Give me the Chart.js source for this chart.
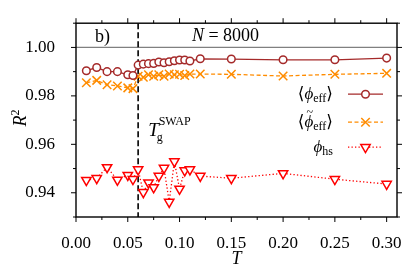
<!DOCTYPE html>
<html><head><meta charset="utf-8">
<script src="https://cdn.jsdelivr.net/npm/chart.js@4/dist/chart.umd.min.js"></script>
<style>html,body{margin:0;padding:0;background:#fff}canvas{display:block}</style>
</head><body>
<canvas id="c" width="416" height="278"></canvas>
<script>
// ---- data ----
const T = [0.01,0.02,0.03,0.04,0.05,0.055,0.06,0.065,0.07,0.075,0.08,0.085,0.09,0.095,0.10,0.105,0.11,0.12,0.15,0.20,0.25,0.30];
const PHI_EFF = [0.9904,0.9917,0.9900,0.9900,0.9887,0.9884,0.9927,0.9931,0.9933,0.9934,0.9940,0.9937,0.9941,0.9945,0.9948,0.9948,0.9944,0.9953,0.9952,0.9949,0.9949,0.9956];
const PHI_EFF_TILDE = [0.9854,0.9864,0.9846,0.9841,0.9833,0.9830,0.9881,0.9877,0.9887,0.9881,0.9887,0.9881,0.9890,0.9887,0.9889,0.9884,0.9890,0.9890,0.9889,0.9882,0.9889,0.9893];
const PHI_HS = [0.9452,0.9460,0.9505,0.9453,0.9473,0.9456,0.9496,0.9402,0.9442,0.9422,0.9469,0.9502,0.9362,0.9529,0.9416,0.9492,0.9496,0.9469,0.9460,0.9480,0.9456,0.9436];
const X_TICKS = [0.00,0.05,0.10,0.15,0.20,0.25,0.30];
const Y_TICKS = [0.94,0.96,0.98,1.00];
const X_MINOR_STEP = 0.025;
const Y_MINOR_STEP = 0.01;
const X_RANGE = [0, 0.31];
const Y_RANGE = [0.93, 1.01];
const T_SWAP = 0.06;
const R2_REF = 1.0;
const N_VALUE = '8000';
const PANEL = 'b)';

// ---- style ----
const SERIF = '"Liberation Serif", "DejaVu Serif", serif';
const BROWN = '#a52a2a';
const ORANGE = '#ff8c00';
const RED = '#ff0000';

function pts(vals){ return T.map((t,i)=>({x:t, y:vals[i]})); }

const SERIES = [
  {key:'eff', data: PHI_EFF, color: BROWN, style:'circle', radius:3.8, rot:0, dash:[], fill:'#fff'},
  {key:'efft', data: PHI_EFF_TILDE, color: ORANGE, style:'crossRot', radius:6, rot:0, dash:[4,2.5], fill:ORANGE},
  {key:'hs', data: PHI_HS, color: RED, style:'triangle', radius:5.4, rot:180, dash:[1.3,2.2], fill:'#fff'}
];

const it = s => `italic ${s}px ${SERIF}`;
const rm = s => `${s}px ${SERIF}`;

function richWidth(ctx, parts){
  let w=0; for(const p of parts){ if(p.over) continue; ctx.font=p.font; w+=ctx.measureText(p.t).width; } return w;
}
function drawRich(ctx, parts, x, yBase, align){
  let w = richWidth(ctx, parts);
  let cx = align==='right' ? x-w : align==='center' ? x-w/2 : x;
  ctx.textAlign='left'; ctx.textBaseline='alphabetic';
  let prevX = cx, prevW = 0;
  for(const p of parts){
    ctx.font=p.font;
    const pw = ctx.measureText(p.t).width;
    if(p.over){
      ctx.fillText(p.t, prevX + prevW/2 - pw/2 + (p.dx||0), yBase + (p.dy||0));
      continue;
    }
    ctx.fillText(p.t, cx + (p.dx||0), yBase + (p.dy||0));
    prevX = cx; prevW = pw;
    cx += pw;
  }
}

const LEGEND_TEXT = [
  [{t:'\u27E8',font:rm(17)},{t:'\u03D5',font:it(17)},{t:'eff',font:rm(12),dy:3},{t:'\u27E9',font:rm(17)}],
  [{t:'\u27E8',font:rm(17)},{t:'\u03D5',font:it(17)},{t:'~',font:rm(12),over:true,dy:-11,dx:1},{t:'eff',font:rm(12),dy:3},{t:'\u27E9',font:rm(17)}],
  [{t:'\u03D5',font:it(17)},{t:'hs',font:rm(12),dy:3}]
];

function marker(ctx, s, x, y){
  ctx.save();
  ctx.strokeStyle = s.color; ctx.fillStyle = s.fill; ctx.lineWidth = 1.5; ctx.setLineDash([]);
  Chart.helpers.drawPoint(ctx, {pointStyle:s.style, radius:s.radius, rotation:s.rot, borderWidth:1.5}, x, y);
  ctx.restore();
}

const deco = {
  id:'deco',
  beforeDatasetsDraw(chart){
    const {ctx, chartArea:a, scales:{x,y}} = chart;
    ctx.save();
    const yr = y.getPixelForValue(R2_REF);
    ctx.strokeStyle='#808080'; ctx.lineWidth=1.3;
    ctx.beginPath(); ctx.moveTo(a.left, yr); ctx.lineTo(a.right, yr); ctx.stroke();
    const xs = x.getPixelForValue(T_SWAP);
    ctx.strokeStyle='#000'; ctx.lineWidth=1.6; ctx.setLineDash([6,3]);
    ctx.beginPath(); ctx.moveTo(xs, a.top); ctx.lineTo(xs, a.bottom); ctx.stroke();
    ctx.restore();
  },
  afterDraw(chart){
    const {ctx, chartArea:a, scales:{x,y}} = chart;
    ctx.save();
    ctx.strokeStyle='#000'; ctx.lineWidth=1.4;
    ctx.strokeRect(a.left, a.top, a.right-a.left, a.bottom-a.top);
    ctx.lineWidth=1;
    const near = (v, arr) => arr.some(m => Math.abs(m-v) < 1e-9);
    for(let k=0; k*X_MINOR_STEP <= x.max+1e-9; k++){
      const v = +(k*X_MINOR_STEP).toFixed(6); if(v < x.min-1e-9) continue;
      const len = near(v, X_TICKS) ? 5 : 3; const px = x.getPixelForValue(v);
      ctx.beginPath(); ctx.moveTo(px, a.bottom); ctx.lineTo(px, a.bottom+len);
      ctx.moveTo(px, a.top); ctx.lineTo(px, a.top-len); ctx.stroke();
    }
    for(let k=Math.ceil(y.min/Y_MINOR_STEP-1e-9); k*Y_MINOR_STEP <= y.max+1e-9; k++){
      const v = +(k*Y_MINOR_STEP).toFixed(6);
      const len = near(v, Y_TICKS) ? 5 : 3; const py = y.getPixelForValue(v);
      ctx.beginPath(); ctx.moveTo(a.left, py); ctx.lineTo(a.left-len, py);
      ctx.moveTo(a.right, py); ctx.lineTo(a.right+len, py); ctx.stroke();
    }
    ctx.fillStyle='#000';
    drawRich(ctx, [{t:PANEL, font:rm(18)}], a.left+19, a.top+19, 'left');
    drawRich(ctx, [{t:'N', font:it(18)},{t:' = '+N_VALUE, font:rm(18)}], (a.left+a.right)/2-11, a.top+18, 'center');
    const xs = x.getPixelForValue(T_SWAP);
    ctx.font = it(19); ctx.textAlign='left'; ctx.textBaseline='alphabetic';
    ctx.fillText('T', xs+10, a.top+113);
    const tw = ctx.measureText('T').width;
    ctx.font = rm(12);
    ctx.fillText('SWAP', xs+10+tw, a.top+102);
    ctx.fillText('g', xs+10+tw-2, a.top+118);
    drawRich(ctx, [{t:'T', font:it(18)}], (a.left+a.right)/2, chart.height-14, 'center');
    ctx.save();
    ctx.translate(26, (a.top+a.bottom)/2 - 2);
    ctx.rotate(-Math.PI/2);
    drawRich(ctx, [{t:'R', font:it(18)},{t:'2', font:rm(12), dy:-7}], 0, 0, 'center');
    ctx.restore();
    const rows = [71, 99, 124];
    SERIES.forEach((s,i)=>{
      const yy = a.top + rows[i];
      ctx.fillStyle='#000';
      drawRich(ctx, LEGEND_TEXT[i], a.right-64, yy+5, 'right');
      ctx.save();
      ctx.strokeStyle=s.color; ctx.lineWidth=1.3; ctx.setLineDash(s.dash);
      ctx.beginPath(); ctx.moveTo(a.right-49, yy); ctx.lineTo(a.right-14, yy); ctx.stroke();
      ctx.restore();
      marker(ctx, s, a.right-31.5, yy);
    });
    ctx.restore();
  }
};

new Chart(document.getElementById('c'), {
  type:'line',
  data:{ datasets: SERIES.map(s=>({
    label:s.key, data:pts(s.data), borderColor:s.color, backgroundColor:s.fill,
    borderWidth:1.3, borderDash:s.dash, tension:0, fill:false,
    pointStyle:s.style, pointRadius:s.radius, pointRotation:s.rot,
    pointBorderWidth:1.5, pointBackgroundColor:s.fill, pointBorderColor:s.color,
    pointHoverRadius:s.radius
  }))},
  options:{
    responsive:false, animation:false, devicePixelRatio:1,
    layout:{padding:{top:18, right:19, left:0, bottom:0}},
    plugins:{legend:{display:false}, tooltip:{enabled:false}},
    scales:{
      x:{type:'linear', min:X_RANGE[0], max:X_RANGE[1],
        afterBuildTicks: sc => { sc.ticks = X_TICKS.map(v=>({value:v})); },
        afterFit: sc => { sc.height = 61; },
        ticks:{callback:v=>Number(v).toFixed(2), font:{family:SERIF, size:17}, color:'#000', padding:8, maxRotation:0, autoSkip:false},
        grid:{display:false}, border:{display:false}},
      y:{type:'linear', min:Y_RANGE[0], max:Y_RANGE[1],
        afterBuildTicks: sc => { sc.ticks = Y_TICKS.map(v=>({value:v})); },
        afterFit: sc => { sc.width = 76; },
        ticks:{callback:v=>Number(v).toFixed(2), font:{family:SERIF, size:17}, color:'#000', padding:13},
        grid:{display:false}, border:{display:false}}
    }
  },
  plugins:[deco]
});
</script>
</body></html>
